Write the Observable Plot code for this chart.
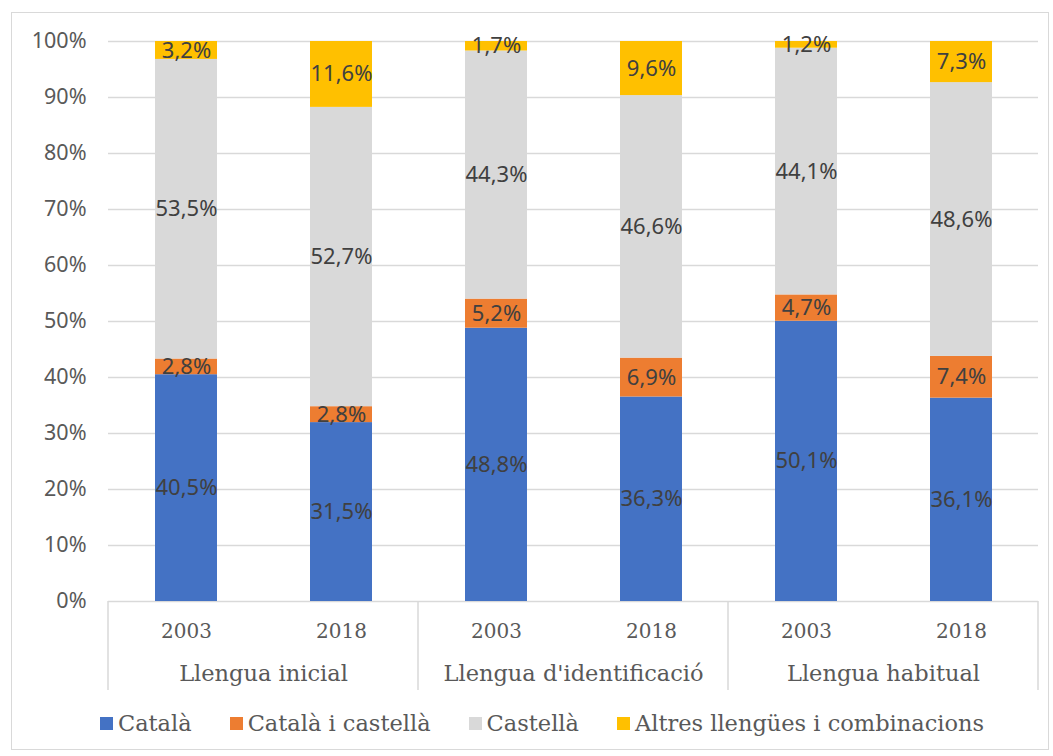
<!DOCTYPE html>
<html><head><meta charset="utf-8">
<script src="https://cdn.jsdelivr.net/npm/d3@7"></script>
<script src="https://cdn.jsdelivr.net/npm/@observablehq/plot@0.6"></script>
<style>
body{margin:0;background:#fff;}
#chart{position:absolute;left:11px;top:12px;width:1038px;height:738px;border:1px solid #d9d9d9;box-sizing:border-box;background:#fff}
#chart svg{display:block}
#legend{display:flex;justify-content:center;gap:38px;font-family:"DejaVu Serif",serif;font-size:22.5px;color:#595959;line-height:20px;margin-top:1px;padding-left:24px}
.item{display:flex;align-items:center}
.sw{width:13px;height:13px;margin-right:5px}
</style></head><body><div id="chart"></div>
<script>
const groups = ["Llengua inicial", "Llengua d'identificació", "Llengua habitual"];
const years = ["2003", "2018"];
const series = ["Català", "Català i castellà", "Castellà", "Altres llengües i combinacions"];
const colors = ["#4472c4", "#ed7d31", "#d9d9d9", "#ffc000"];
// values per bar: LI 2003, LI 2018, LId 2003, LId 2018, LH 2003, LH 2018
const catala = [40.5, 31.5, 48.8, 36.3, 50.1, 36.1];
const catalaCastella = [2.8, 2.8, 5.2, 6.9, 4.7, 7.4];
const castella = [53.5, 52.7, 44.3, 46.6, 44.1, 48.6];
const altres = [3.2, 11.6, 1.7, 9.6, 1.2, 7.3];
const yTicks = [0, 0.1, 0.2, 0.3, 0.4, 0.5, 0.6, 0.7, 0.8, 0.9, 1];

const seriesValues = [catala, catalaCastella, castella, altres];
const data = [];
seriesValues.forEach((vals, s) => {
  vals.forEach((v, i) => {
    data.push({series: series[s], group: groups[Math.floor(i / 2)], year: years[i % 2], value: v});
  });
});
const fmt = d => d.value.toFixed(1).replace(".", ",") + "%";
const sans = "'Noto Sans', 'Open Sans', sans-serif";
const serif = "'DejaVu Serif', serif";

const chart = Plot.plot({
  width: 1036, height: 699,
  marginLeft: 96, marginRight: 10, marginTop: 28, marginBottom: 111,
  style: {color: "#595959", background: "white"},
  fx: {domain: groups, padding: 0, label: null},
  x: {domain: years, paddingInner: 0.6, paddingOuter: 0.3, label: null},
  y: {domain: [0, 1], label: null},
  color: {domain: series, range: colors},
  marks: [
    Plot.gridY(yTicks, {stroke: "#d9d9d9", strokeOpacity: 1, strokeWidth: 1.5}),
    Plot.axisY(yTicks, {tickSize: 0, tickPadding: 22, tickFormat: d => Math.round(d * 100) + "%", fontSize: 21.5, fontFamily: sans, label: null}),
    Plot.barY(data, {fx: "group", x: "year", y: "value", fill: "series", offset: "normalize"}),
    Plot.text(data, Plot.stackY({fx: "group", x: "year", y: "value", text: fmt, offset: "normalize", fill: "#404040", fontSize: 22, fontFamily: sans})),
    Plot.axisX({tickSize: 0, tickPadding: 22, fontSize: 20, fontFamily: serif, label: null}),
    Plot.axisFx({anchor: "bottom", tickSize: 0, tickPadding: 64, fontSize: 22.5, fontFamily: serif, label: null})
  ]
});

// group separators below the axis, positioned by the fx/y scales
const fx = chart.scale("fx"), ys = chart.scale("y");
const y0 = ys.apply(0);
const xs = groups.map(g => fx.apply(g));
xs.push(fx.apply(groups[groups.length - 1]) + fx.bandwidth);
d3.select(chart).append("g").selectAll("line").data(xs).join("line")
  .attr("x1", d => d).attr("x2", d => d)
  .attr("y1", y0).attr("y2", y0 + 89)
  .attr("stroke", "#d9d9d9").attr("stroke-width", 1.5);

const container = document.getElementById("chart");
container.appendChild(chart);
const legend = document.createElement("div");
legend.id = "legend";
series.forEach((s, i) => {
  const item = document.createElement("div");
  item.className = "item";
  const sw = document.createElement("span");
  sw.className = "sw";
  sw.style.background = colors[i];
  const t = document.createElement("span");
  t.textContent = s;
  item.appendChild(sw); item.appendChild(t);
  legend.appendChild(item);
});
container.appendChild(legend);
</script></body></html>
